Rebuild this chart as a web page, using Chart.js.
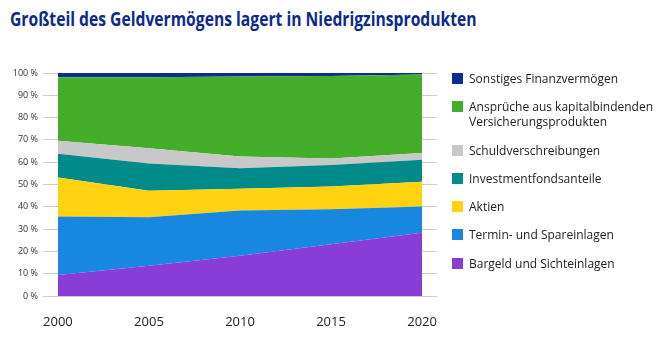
<!DOCTYPE html>
<html lang="de">
<head>
<meta charset="utf-8">
<script src="https://cdn.jsdelivr.net/npm/chart.js@4"></script>
<style>
  html, body { margin: 0; padding: 0; background: #fff; }
  #wrap { position: relative; width: 661px; height: 339px; overflow: hidden; }
  #title {
    position: absolute; left: 10px; top: 6px; margin: 0;
    font: 700 19px "Open Sans", sans-serif; color: #0b2a8c; white-space: nowrap;
    transform-origin: 0 0;
  }
  #chart { position: absolute; left: 0; top: 0; }
  #legend { position: absolute; left: 452px; top: 71px; margin: 0; padding: 0; list-style: none;
    font: 12px "Open Sans", sans-serif; color: #222; }
  #legend li { position: relative; padding-left: 17px; line-height: 15px; margin-bottom: 13.3px; }
  #legend li span { position: absolute; left: 0; top: 2px; width: 11px; height: 11px; }
</style>
</head>
<body>
<div id="wrap">
  <h1 id="title">Großteil des Geldvermögens lagert in Niedrigzinsprodukten</h1>
  <canvas id="chart" width="661" height="339"></canvas>
  <ul id="legend"></ul>
</div>
<script>
const years = [2000, 2005, 2010, 2015, 2020];
const yTicks = [0, 10, 20, 30, 40, 50, 60, 70, 80, 90, 100];

// Anteile am Geldvermögen in %, von unten nach oben gestapelt
const bargeld = [9.4, 13.6, 18.0, 23.2, 28.4];
const termin = [26.2, 21.7, 20.3, 15.7, 11.7];
const aktien = [17.5, 11.9, 9.8, 10.2, 11.1];
const investment = [10.7, 12.2, 9.2, 9.7, 9.9];
const schuldverschreibungen = [5.8, 6.9, 5.3, 2.9, 3.0];
const versicherung = [28.5, 31.8, 35.8, 37.0, 35.2];
const sonstiges = [1.9, 1.9, 1.6, 1.3, 0.7];

const series = [
  { label: "Bargeld und Sichteinlagen", values: bargeld, color: "#883ed6" },
  { label: "Termin- und Spareinlagen", values: termin, color: "#1787e0" },
  { label: "Aktien", values: aktien, color: "#ffd30f" },
  { label: "Investmentfondsanteile", values: investment, color: "#008b8b" },
  { label: "Schuldverschreibungen", values: schuldverschreibungen, color: "#c8c8c8" },
  { label: ["Ansprüche aus kapitalbindenden", "Versicherungsprodukten"], values: versicherung, color: "#44ae2b" },
  { label: "Sonstiges Finanzvermögen", values: sonstiges, color: "#0d2d94" },
];

// Titel auf die schmale Breite der Hausschrift bringen
const title = document.getElementById("title");
title.style.transform = "scaleX(" + (467 / title.offsetWidth) + ")";

const datasets = series.map((s, i) => ({
  label: s.label,
  data: s.values.map((v, j) => ({ x: years[j], y: v })),
  backgroundColor: s.color,
  borderColor: s.color,
  borderWidth: 0,
  pointRadius: 0,
  tension: 0,
  fill: i === 0 ? "origin" : "-1",
}));

const chart = new Chart(document.getElementById("chart"), {
  type: "line",
  data: { datasets },
  options: {
    responsive: false,
    animation: false,
    layout: { padding: { top: 73, right: 224, bottom: 0, left: 0 } },
    plugins: { legend: { display: false }, tooltip: { enabled: false } },
    scales: {
      x: {
        type: "linear",
        min: 1999.18,
        max: 2020.82,
        afterBuildTicks: (scale) => { scale.ticks = years.map(v => ({ value: v })); },
        afterFit: (scale) => { scale.height = 43; },
        grid: { display: false },
        border: { display: false },
        ticks: {
          padding: 10,
          color: "#222",
          font: { family: "Open Sans", size: 13 },
          callback: (v) => String(v),
        },
      },
      y: {
        stacked: true,
        min: 0,
        max: 100,
        afterBuildTicks: (scale) => { scale.ticks = yTicks.map(v => ({ value: v })); },
        afterFit: (scale) => { scale.width = 43; },
        grid: { color: "#cccccc", lineWidth: 1, drawTicks: false },
        border: { display: false },
        ticks: {
          padding: 5,
          color: "#333",
          font: { family: "Open Sans", size: 9 },
          callback: (v) => v + " %",
        },
      },
    },
  },
});

// Legende: oberste Fläche zuerst
const legend = document.getElementById("legend");
chart.data.datasets.slice().reverse().forEach((ds) => {
  const li = document.createElement("li");
  const box = document.createElement("span");
  box.style.background = ds.backgroundColor;
  li.appendChild(box);
  const lines = Array.isArray(ds.label) ? ds.label : [ds.label];
  lines.forEach((t, k) => {
    if (k) li.appendChild(document.createElement("br"));
    li.appendChild(document.createTextNode(t));
  });
  legend.appendChild(li);
});
</script>
</body>
</html>
